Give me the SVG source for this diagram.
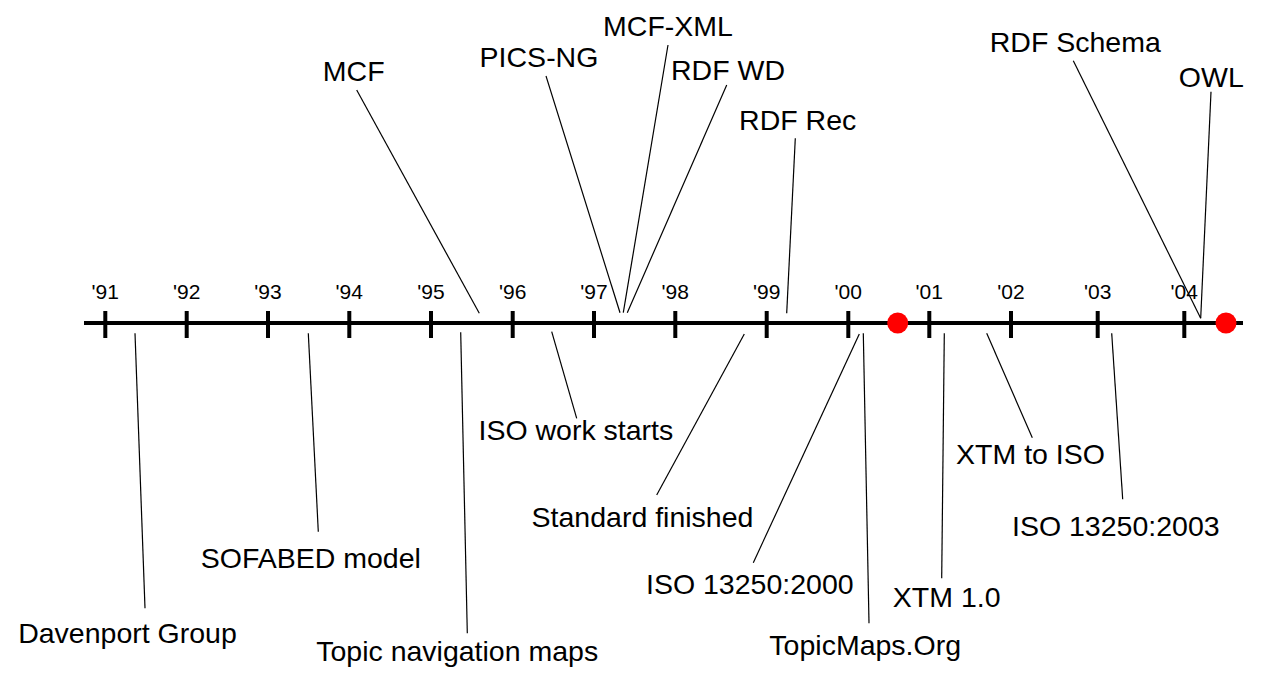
<svg xmlns="http://www.w3.org/2000/svg" width="1263" height="675" viewBox="0 0 1263 675">
<style>
.axis{stroke:#000;stroke-width:4;fill:none}
.tick{stroke:#000;stroke-width:4}
.conn{stroke:#000;stroke-width:1.2;fill:none}
.yr{font-family:"Liberation Sans",Arial,sans-serif;font-size:21px;fill:#000;text-anchor:middle}
.lbl{font-family:"Liberation Sans",Arial,sans-serif;font-size:28.5px;fill:#000;text-anchor:middle}
.dot{fill:#ff0000}
</style>
<rect width="1263" height="675" fill="#fff"/>
<g id="axis">
<line class="axis" x1="84" y1="323" x2="1243" y2="323"/>
<g id="ticks">
<line class="tick" x1="105.3" y1="311" x2="105.3" y2="338"/>
<line class="tick" x1="186.7" y1="311" x2="186.7" y2="338"/>
<line class="tick" x1="268" y1="311" x2="268" y2="338"/>
<line class="tick" x1="349.3" y1="311" x2="349.3" y2="338"/>
<line class="tick" x1="431" y1="311" x2="431" y2="338"/>
<line class="tick" x1="512.7" y1="311" x2="512.7" y2="338"/>
<line class="tick" x1="594" y1="311" x2="594" y2="338"/>
<line class="tick" x1="675.3" y1="311" x2="675.3" y2="338"/>
<line class="tick" x1="766.7" y1="311" x2="766.7" y2="338"/>
<line class="tick" x1="848.3" y1="311" x2="848.3" y2="338"/>
<line class="tick" x1="929.3" y1="311" x2="929.3" y2="338"/>
<line class="tick" x1="1011" y1="311" x2="1011" y2="338"/>
<line class="tick" x1="1097.7" y1="311" x2="1097.7" y2="338"/>
<line class="tick" x1="1184.3" y1="311" x2="1184.3" y2="338"/>
</g>
<g id="years">
<text class="yr" x="105.3" y="299">'91</text>
<text class="yr" x="186.7" y="299">'92</text>
<text class="yr" x="268" y="299">'93</text>
<text class="yr" x="349.3" y="299">'94</text>
<text class="yr" x="431" y="299">'95</text>
<text class="yr" x="512.7" y="299">'96</text>
<text class="yr" x="594" y="299">'97</text>
<text class="yr" x="675.3" y="299">'98</text>
<text class="yr" x="766.7" y="299">'99</text>
<text class="yr" x="848.3" y="299">'00</text>
<text class="yr" x="929.3" y="299">'01</text>
<text class="yr" x="1011" y="299">'02</text>
<text class="yr" x="1097.7" y="299">'03</text>
<text class="yr" x="1184.3" y="299">'04</text>
</g>
<circle class="dot" cx="897.7" cy="323" r="10.5"/>
<circle class="dot" cx="1226" cy="323" r="10.5"/>
</g>
<g id="connectors">
<line class="conn" x1="135" y1="333.3" x2="145" y2="608.3"/>
<line class="conn" x1="308.3" y1="333.3" x2="318.3" y2="531.7"/>
<line class="conn" x1="460.7" y1="332.3" x2="467.3" y2="633.3"/>
<line class="conn" x1="551.7" y1="331.7" x2="576.7" y2="418.3"/>
<line class="conn" x1="744.3" y1="334" x2="656.7" y2="495"/>
<line class="conn" x1="859.3" y1="334" x2="753.3" y2="562.7"/>
<line class="conn" x1="863.3" y1="333.3" x2="869" y2="623.3"/>
<line class="conn" x1="944.3" y1="333.3" x2="941.7" y2="578.3"/>
<line class="conn" x1="986.7" y1="333.3" x2="1032.3" y2="437.7"/>
<line class="conn" x1="1111.7" y1="333.3" x2="1122.7" y2="499.3"/>
<line class="conn" x1="356.7" y1="90" x2="479.3" y2="313.3"/>
<line class="conn" x1="546" y1="76" x2="620" y2="312.7"/>
<line class="conn" x1="668" y1="45" x2="623.3" y2="312.7"/>
<line class="conn" x1="726.7" y1="85" x2="627.3" y2="312.7"/>
<line class="conn" x1="795.3" y1="138.3" x2="786.7" y2="313.3"/>
<line class="conn" x1="1073.3" y1="60.7" x2="1200.7" y2="318.3"/>
<line class="conn" x1="1211" y1="91.7" x2="1200.7" y2="318.3"/>
</g>
<g id="davenport"><text class="lbl" x="127.5" y="642.7">Davenport Group</text></g>
<g id="sofabed"><text class="lbl" x="310.8" y="568.3">SOFABED model</text></g>
<g id="topicnav"><text class="lbl" x="457.2" y="660.7">Topic navigation maps</text></g>
<g id="isowork"><text class="lbl" x="575.9" y="440">ISO work starts</text></g>
<g id="stdfinished"><text class="lbl" x="642.5" y="527.3">Standard finished</text></g>
<g id="iso2000"><text class="lbl" x="749.8" y="594">ISO 13250:2000</text></g>
<g id="topicmapsorg"><text class="lbl" x="865.2" y="655">TopicMaps.Org</text></g>
<g id="xtm10"><text class="lbl" x="946.7" y="606.7">XTM 1.0</text></g>
<g id="xtmiso"><text class="lbl" x="1030.5" y="464.3">XTM to ISO</text></g>
<g id="iso2003"><text class="lbl" x="1115.8" y="535.7">ISO 13250:2003</text></g>
<g id="mcf"><text class="lbl" x="353.7" y="80.7">MCF</text></g>
<g id="picsng"><text class="lbl" x="539" y="67.3">PICS-NG</text></g>
<g id="mcfxml"><text class="lbl" x="668" y="36">MCF-XML</text></g>
<g id="rdfwd"><text class="lbl" x="728" y="80">RDF WD</text></g>
<g id="rdfrec"><text class="lbl" x="797.7" y="130">RDF Rec</text></g>
<g id="rdfschema"><text class="lbl" x="1075.3" y="51.7">RDF Schema</text></g>
<g id="owl"><text class="lbl" x="1211.3" y="86.7">OWL</text></g>
</svg>
